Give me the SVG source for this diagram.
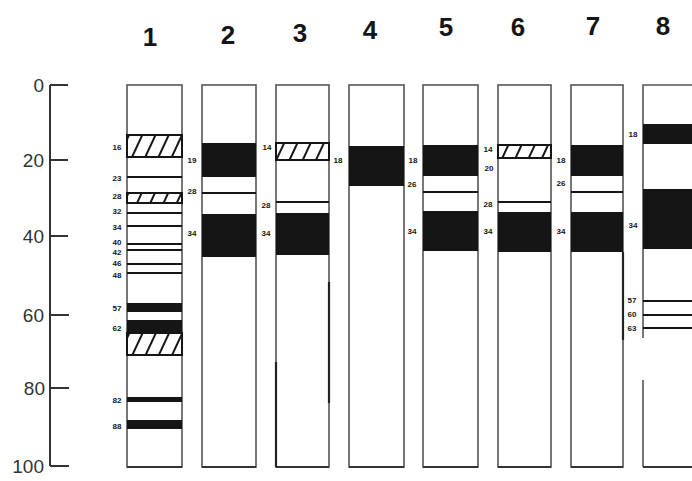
<svg xmlns="http://www.w3.org/2000/svg" width="692" height="481" viewBox="0 0 692 481">
<style>
.lane{fill:#fff;stroke:#555;stroke-width:1.6}
.base{stroke:#333;stroke-width:2.2}
.blk{fill:#151515}
.ln{stroke:#151515;stroke-width:2}
.hat{fill:url(#hatch);stroke:#151515;stroke-width:2}
.lab{font-family:"Liberation Sans",Arial,sans-serif;font-size:8px;font-weight:bold;fill:#151515;text-anchor:middle}
.ttl{font-family:"Liberation Sans",Arial,sans-serif;font-size:26px;font-weight:bold;fill:#151515;text-anchor:middle}
.ax{font-family:"Liberation Sans",Arial,sans-serif;font-size:19px;fill:#333;text-anchor:end}
</style>
<defs>
<pattern id="hatch" patternUnits="userSpaceOnUse" width="12" height="12" patternTransform="rotate(25)">
<rect width="12" height="12" fill="#fff"/>
<line x1="6" y1="-1" x2="6" y2="13" stroke="#151515" stroke-width="2"/>
</pattern>
</defs>
<rect width="692" height="481" fill="#fff"/>

<g id="titles">
<text class="ttl" x="150" y="46">1</text>
<text class="ttl" x="228" y="44">2</text>
<text class="ttl" x="300" y="42">3</text>
<text class="ttl" x="370" y="39">4</text>
<text class="ttl" x="446" y="36">5</text>
<text class="ttl" x="518" y="36">6</text>
<text class="ttl" x="593" y="35">7</text>
<text class="ttl" x="663" y="35">8</text>
</g>

<g id="axis" stroke="#333" stroke-width="2">
<line x1="50" y1="85" x2="50" y2="466"/>
<line x1="50" y1="85" x2="68" y2="85"/>
<line x1="50" y1="160" x2="68" y2="160"/>
<line x1="50" y1="236" x2="68" y2="236"/>
<line x1="50" y1="315" x2="69" y2="315"/>
<line x1="50" y1="388" x2="69" y2="388"/>
<line x1="50" y1="466" x2="69" y2="466"/>
<g stroke="none">
<text class="ax" x="44" y="92">0</text>
<text class="ax" x="44" y="167" fill="#777">20</text>
<text class="ax" x="44" y="243">40</text>
<text class="ax" x="44" y="322">60</text>
<text class="ax" x="45" y="395">80</text>
<text class="ax" x="44" y="473">100</text>
</g>
</g>

<g id="lane1">
<rect class="lane" x="127" y="85" width="55" height="382"/>
<line class="base" x1="127" y1="467" x2="182" y2="467"/>
<rect class="hat" x="127" y="135" width="55" height="22"/>
<line class="ln" x1="127" y1="177" x2="182" y2="177"/>
<rect class="hat" x="127" y="193" width="55" height="10"/>
<line class="ln" x1="127" y1="213" x2="182" y2="213"/>
<line class="ln" x1="127" y1="226" x2="182" y2="226"/>
<line class="ln" x1="127" y1="244" x2="182" y2="244"/>
<line class="ln" x1="127" y1="250" x2="182" y2="250"/>
<line class="ln" x1="127" y1="264" x2="182" y2="264"/>
<line class="ln" x1="127" y1="273" x2="182" y2="273"/>
<rect class="blk" x="127" y="303" width="55" height="9"/>
<rect class="blk" x="127" y="320" width="55" height="13"/>
<rect class="hat" x="127" y="333" width="55" height="22"/>
<rect class="blk" x="127" y="397" width="55" height="5"/>
<rect class="blk" x="127" y="420" width="55" height="9"/>
<text class="lab" x="117" y="150">16</text>
<text class="lab" x="117" y="181">23</text>
<text class="lab" x="117" y="199">28</text>
<text class="lab" x="117" y="214">32</text>
<text class="lab" x="117" y="230">34</text>
<text class="lab" x="117" y="245">40</text>
<text class="lab" x="117" y="255">42</text>
<text class="lab" x="117" y="266">46</text>
<text class="lab" x="117" y="278">48</text>
<text class="lab" x="117" y="311">57</text>
<text class="lab" x="117" y="331">62</text>
<text class="lab" x="117" y="403">82</text>
<text class="lab" x="117" y="429">88</text>
</g>

<g id="lane2">
<rect class="lane" x="202" y="85" width="54" height="382"/>
<line class="base" x1="202" y1="467" x2="256" y2="467"/>
<rect class="blk" x="202" y="143" width="54" height="34"/>
<line class="ln" x1="202" y1="193" x2="256" y2="193"/>
<rect class="blk" x="202" y="214" width="54" height="43"/>
<text class="lab" x="192" y="163">19</text>
<text class="lab" x="192" y="194">28</text>
<text class="lab" x="192" y="236">34</text>
</g>

<g id="lane3">
<rect class="lane" x="276" y="85" width="53" height="382"/>
<line class="base" x1="276" y1="467" x2="329" y2="467"/>
<line stroke="#222" stroke-width="2.2" x1="329" y1="282" x2="329" y2="403"/>
<line stroke="#222" stroke-width="2.2" x1="276" y1="362" x2="276" y2="467"/>
<rect class="hat" x="276" y="143" width="53" height="17"/>
<line class="ln" x1="276" y1="202" x2="329" y2="202"/>
<rect class="blk" x="276" y="213" width="53" height="42"/>
<text class="lab" x="267" y="150">14</text>
<text class="lab" x="266" y="208">28</text>
<text class="lab" x="266" y="236">34</text>
</g>

<g id="lane4">
<rect class="lane" x="349" y="85" width="55" height="382"/>
<line class="base" x1="349" y1="467" x2="404" y2="467"/>
<rect class="blk" x="349" y="146" width="55" height="40"/>
<text class="lab" x="338" y="163">18</text>
</g>

<g id="lane5">
<rect class="lane" x="423" y="85" width="55" height="382"/>
<line class="base" x1="423" y1="467" x2="478" y2="467"/>
<rect class="blk" x="423" y="145" width="55" height="31"/>
<line class="ln" x1="423" y1="192" x2="478" y2="192"/>
<rect class="blk" x="423" y="211" width="55" height="40"/>
<text class="lab" x="413" y="163">18</text>
<text class="lab" x="412" y="187">26</text>
<text class="lab" x="412" y="234">34</text>
</g>

<g id="lane6">
<rect class="lane" x="498" y="85" width="53" height="382"/>
<line class="base" x1="498" y1="467" x2="551" y2="467"/>
<rect class="hat" x="498" y="145" width="53" height="13"/>
<line class="ln" x1="498" y1="202" x2="551" y2="202"/>
<rect class="blk" x="498" y="212" width="53" height="40"/>
<text class="lab" x="488" y="152">14</text>
<text class="lab" x="489" y="171">20</text>
<text class="lab" x="488" y="207">28</text>
<text class="lab" x="488" y="234">34</text>
</g>

<g id="lane7">
<rect class="lane" x="571" y="85" width="52" height="382"/>
<line class="base" x1="571" y1="467" x2="623" y2="467"/>
<line stroke="#222" stroke-width="2.2" x1="623" y1="252" x2="623" y2="340"/>
<rect class="blk" x="571" y="145" width="52" height="31"/>
<line class="ln" x1="571" y1="192" x2="623" y2="192"/>
<rect class="blk" x="571" y="212" width="52" height="40"/>
<text class="lab" x="561" y="163">18</text>
<text class="lab" x="561" y="186">26</text>
<text class="lab" x="561" y="234">34</text>
</g>

<g id="lane8">
<rect fill="#fff" x="643" y="85" width="60" height="382"/>
<path fill="none" stroke="#555" stroke-width="1.6" d="M643,338 V85 H703 M643,380 V467"/>
<line class="base" x1="643" y1="467" x2="692" y2="467"/>
<rect class="blk" x="643" y="124" width="50" height="20"/>
<rect class="blk" x="643" y="189" width="50" height="60"/>
<line class="ln" x1="643" y1="301" x2="692" y2="301"/>
<line class="ln" x1="643" y1="315" x2="692" y2="315"/>
<line class="ln" x1="643" y1="328" x2="692" y2="328"/>
<text class="lab" x="633" y="137">18</text>
<text class="lab" x="633" y="228">34</text>
<text class="lab" x="632" y="303">57</text>
<text class="lab" x="632" y="317">60</text>
<text class="lab" x="632" y="331">63</text>
</g>
</svg>
